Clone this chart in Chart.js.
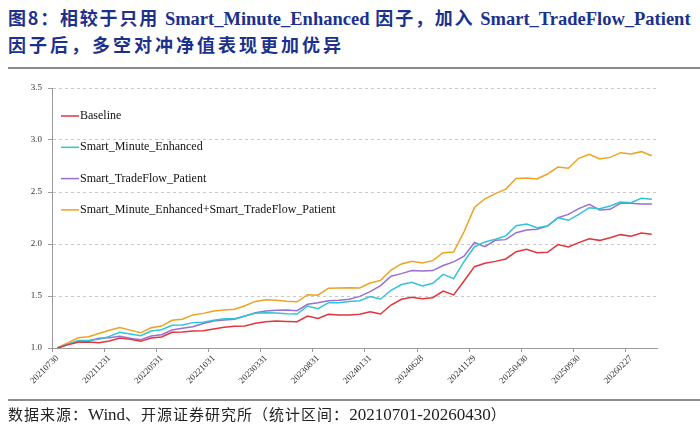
<!DOCTYPE html>
<html>
<head>
<meta charset="utf-8">
<script src="https://cdn.jsdelivr.net/npm/chart.js@4.4.1/dist/chart.umd.min.js"></script>
<style>
  html, body { margin: 0; padding: 0; background: #fff; }
  #page { position: relative; width: 700px; height: 433px; overflow: hidden; }
  .title {
    position: absolute; left: 8px; width: 700px;
    font-family: "Noto Sans CJK SC", sans-serif; font-weight: bold;
    font-size: 18px; line-height: 27px; color: #1c318c;
    white-space: nowrap;
  }
  .title .en { font-family: "Liberation Serif", serif; font-size: 18.5px; letter-spacing: 0; }
  .rule { position: absolute; left: 8px; width: 692px; height: 2px; background: #8c8c8c; }
  .source {
    position: absolute; left: 8px; top: 403px;
    font-family: "Noto Sans CJK SC", sans-serif; font-size: 15px; color: #222;
    letter-spacing: 1px; white-space: nowrap;
  }
  .source .en { font-family: "Liberation Serif", serif; font-size: 17px; letter-spacing: 0; }
  canvas { position: absolute; left: 0; top: 75px; }
</style>
</head>
<body>
<div id="page">
  <div class="title" style="top:4px; letter-spacing:1.8px">图8：相较于只用 <span class="en">Smart_Minute_Enhanced</span> 因子，加入 <span class="en">Smart_TradeFlow_Patient</span></div>
  <div class="title" style="top:31px; letter-spacing:3px">因子后，多空对冲净值表现更加优异</div>
  <div class="rule" style="top:67px"></div>
  <canvas id="navChart" width="700" height="325"></canvas>
  <div class="rule" style="top:399px; height:1.5px"></div>
  <div class="source">数据来源：<span class="en">Wind</span>、开源证券研究所（统计区间：<span class="en">20210701-20260430</span>）</div>
</div>
<script>
// tick labels shown on the axis, one every 5 months (58 monthly points)
const tickLabels = ["20210730", "20211231", "20220531", "20221031", "20230331", "20230831",
  "20240131", "20240628", "20241129", "20250430", "20250930", "20260227"];
const pointCount = 58;

const baseline = [1.000, 1.030, 1.055, 1.058, 1.051, 1.067, 1.096, 1.083, 1.064, 1.096,
  1.106, 1.151, 1.154, 1.163, 1.167, 1.183, 1.199, 1.208, 1.212, 1.237,
  1.253, 1.260, 1.256, 1.253, 1.308, 1.285, 1.324, 1.317, 1.317, 1.325,
  1.349, 1.327, 1.413, 1.468, 1.487, 1.474, 1.484, 1.548, 1.510, 1.644,
  1.782, 1.814, 1.833, 1.856, 1.926, 1.949, 1.917, 1.920, 1.994, 1.971,
  2.013, 2.051, 2.035, 2.061, 2.090, 2.074, 2.106, 2.093];

const minuteEnhanced = [1.000, 1.035, 1.071, 1.071, 1.083, 1.112, 1.151, 1.135, 1.119, 1.163,
  1.176, 1.218, 1.221, 1.244, 1.248, 1.266, 1.282, 1.282, 1.308, 1.333,
  1.340, 1.337, 1.330, 1.327, 1.404, 1.378, 1.436, 1.436, 1.446, 1.455,
  1.494, 1.471, 1.555, 1.610, 1.632, 1.596, 1.622, 1.708, 1.667, 1.830,
  1.974, 2.020, 2.045, 2.078, 2.176, 2.192, 2.157, 2.173, 2.253, 2.228,
  2.285, 2.349, 2.340, 2.365, 2.404, 2.397, 2.439, 2.430];

const tradeFlowPatient = [1.000, 1.035, 1.067, 1.067, 1.093, 1.099, 1.112, 1.093, 1.080, 1.115,
  1.128, 1.173, 1.189, 1.205, 1.236, 1.260, 1.269, 1.276, 1.308, 1.340,
  1.356, 1.362, 1.365, 1.359, 1.420, 1.436, 1.455, 1.458, 1.468, 1.496,
  1.542, 1.600, 1.690, 1.715, 1.744, 1.740, 1.744, 1.793, 1.828, 1.882,
  2.015, 1.974, 2.035, 2.042, 2.109, 2.135, 2.141, 2.173, 2.253, 2.285,
  2.340, 2.381, 2.327, 2.333, 2.391, 2.391, 2.385, 2.385];

const combined = [1.000, 1.050, 1.098, 1.108, 1.140, 1.170, 1.198, 1.172, 1.146, 1.195,
  1.211, 1.267, 1.277, 1.318, 1.333, 1.356, 1.365, 1.372, 1.406, 1.448,
  1.465, 1.460, 1.449, 1.444, 1.512, 1.508, 1.575, 1.578, 1.580, 1.578,
  1.625, 1.650, 1.750, 1.808, 1.835, 1.818, 1.840, 1.917, 1.923, 2.118,
  2.351, 2.435, 2.484, 2.528, 2.631, 2.635, 2.625, 2.673, 2.740, 2.728,
  2.824, 2.862, 2.817, 2.833, 2.878, 2.865, 2.888, 2.849];

const seriesNames = ["Baseline", "Smart_Minute_Enhanced", "Smart_TradeFlow_Patient",
  "Smart_Minute_Enhanced+Smart_TradeFlow_Patient"];
const seriesColors = ["#e0353b", "#2fc4d6", "#9a6fd0", "#eea21f"];

const categories = [];
for (let i = 0; i < pointCount; i++) {
  categories.push(i % 5 === 0 ? tickLabels[i / 5] : "");
}

// legend drawn inside the plot, top-left, like the original
const insideLegend = {
  id: "insideLegend",
  afterDatasetsDraw(chart) {
    const { ctx, chartArea } = chart;
    ctx.save();
    ctx.font = "12px 'Liberation Serif', serif";
    ctx.textBaseline = "middle";
    ctx.fillStyle = "#111";
    chart.data.datasets.forEach((ds, i) => {
      const y = chartArea.top + 28 + i * 31.3;
      const x = chartArea.left + 9;
      ctx.strokeStyle = ds.borderColor;
      ctx.lineWidth = 1.5;
      ctx.beginPath();
      ctx.moveTo(x, y);
      ctx.lineTo(x + 18, y);
      ctx.stroke();
      ctx.fillText(ds.label, x + 19, y);
    });
    ctx.restore();
  }
};

const datasets = [baseline, minuteEnhanced, tradeFlowPatient, combined].map((d, i) => ({
  label: seriesNames[i],
  data: d,
  borderColor: seriesColors[i],
  backgroundColor: seriesColors[i],
  borderWidth: 1.5,
  pointRadius: 0,
  tension: 0
}));

new Chart(document.getElementById("navChart"), {
  type: "line",
  data: { labels: categories, datasets },
  options: {
    responsive: false,
    animation: false,
    layout: { padding: { top: 13, right: 43, left: 0, bottom: 0 } },
    plugins: { legend: { display: false }, tooltip: { enabled: false } },
    scales: {
      x: {
        offset: true,
        afterFit(scale) { scale.height = 52; },
        grid: {
          offset: true,
          drawOnChartArea: false,
          tickLength: 4,
          tickColor: (c) => (c.index % 5 === 0 ? "#9a9a9a" : "rgba(0,0,0,0)")
        },
        border: { display: true, color: "#9a9a9a", width: 1 },
        ticks: {
          autoSkip: false,
          maxRotation: 45,
          minRotation: 45,
          padding: 1,
          color: "#333",
          font: { family: "'Liberation Serif', serif", size: 9 }
        }
      },
      y: {
        min: 1.0,
        max: 3.5,
        afterFit(scale) { scale.width = 52; },
        grid: {
          color: "#c9c9c9",
          lineWidth: 1,
          tickLength: 4,
          tickColor: "#9a9a9a",
          tickBorderDash: []
        },
        border: { display: true, color: "#9a9a9a", width: 1, dash: [3, 3] },
        ticks: {
          stepSize: 0.5,
          padding: 6,
          color: "#333",
          font: { family: "'Liberation Serif', serif", size: 9 },
          callback: (v) => v.toFixed(1)
        }
      }
    }
  },
  plugins: [insideLegend]
});
</script>
</body>
</html>
